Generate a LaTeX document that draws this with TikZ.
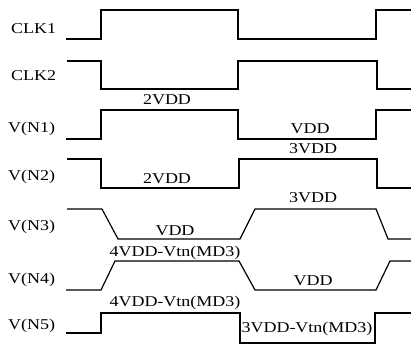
\documentclass[tikz,border=0pt]{standalone}
\usepackage{fontspec}
\setmainfont{Liberation Serif}
\begin{document}
\begin{tikzpicture}[x=1pt,y=-1pt,
  wave/.style={line width=1.2pt, line join=miter},
  lbl/.style={font=\fontsize{15}{15}\selectfont, inner sep=0pt, xscale=1.2},
  rowname/.style={lbl, anchor=west}]
\useasboundingbox (0,0) rectangle (411,347);
% row names
\node[rowname] (lclk1) at (11,29) {CLK1};
\node[rowname] (lclk2) at (11,76) {CLK2};
\node[rowname] (ln1) at (8,129) {V(N1)};
\node[rowname] (ln2) at (8,177) {V(N2)};
\node[rowname] (ln3) at (8,227) {V(N3)};
\node[rowname] (ln4) at (8,280) {V(N4)};
\node[rowname] (ln5) at (8,326) {V(N5)};
% waveforms
\draw[wave] (66,39) -- (101,39) -- (101,10) -- (238,10) -- (238,39) -- (376,39) -- (376,10) -- (411,10);
\draw[wave] (67,61) -- (101,61) -- (101,89) -- (238,89) -- (238,61) -- (377,61) -- (377,89) -- (411,89);
\draw[wave] (66,139) -- (101,139) -- (101,110) -- (238,110) -- (238,139) -- (376,139) -- (376,110) -- (411,110);
\draw[wave] (67,159) -- (101,159) -- (101,188) -- (239,188) -- (239,159) -- (377,159) -- (377,188) -- (411,188);
\draw[wave] (67,209) -- (102,209) -- (118,239) -- (240,239) -- (255,209) -- (376,209) -- (388,239) -- (411,239);
\draw[wave] (66,290) -- (101,290) -- (115,261) -- (239,261) -- (255,290) -- (376,290) -- (390,261) -- (411,261);
\draw[wave] (66,333) -- (101,333) -- (101,313) -- (240,313) -- (240,343) -- (375,343) -- (375,313) -- (411,313);
% level labels
\node[lbl] (a1) at (167,100) {2VDD};
\node[lbl] (a2) at (310,129) {VDD};
\node[lbl] (a3) at (313,149) {3VDD};
\node[lbl] (a4) at (167,179) {2VDD};
\node[lbl] (a5) at (313,198) {3VDD};
\node[lbl] (a6) at (175,231) {VDD};
\node[lbl] (a7) at (175,253) {4VDD-Vtn(MD3)};
\node[lbl] (a8) at (313,281) {VDD};
\node[lbl] (a9) at (175,303) {4VDD-Vtn(MD3)};
\node[lbl] (a10) at (307,329) {3VDD-Vtn(MD3)};
\end{tikzpicture}
\end{document}
